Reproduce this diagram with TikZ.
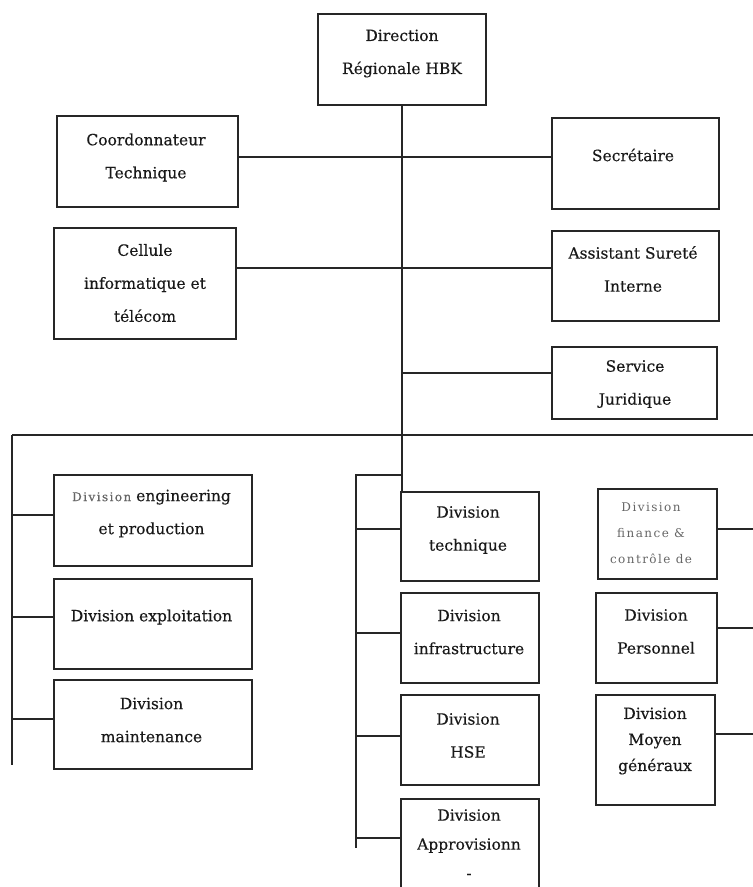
\documentclass[tikz,border=0pt]{standalone}
\usepackage{fontspec}
\setmainfont{DejaVu Serif}
\usetikzlibrary{calc}

% rectangle node spanning the corners (x1,y1)-(x2,y2)
\newcommand\orgbox[5]{%
  \node[unitbox, minimum width={(#4-#2)*1pt}, minimum height={(#5-#3)*1pt}]
    (#1) at ({(#2+#4)/2},{(#3+#5)/2}) {};}
% light, spaced lettering used in some labels
\newcommand\lightword[1]{{\fontsize{12}{26}\selectfont\addfontfeatures{LetterSpace=12}\color{black!60}#1}}

\tikzset{
  unitbox/.style={draw=black!85, line width=1.8pt, rectangle, inner sep=0pt},
  label/.style={align=center, inner sep=0pt, text=black!90,
                font=\fontsize{15.5}{33}\selectfont\addfontfeatures{FakeBold=0.3}},
  tightlabel/.style={label, font=\fontsize{15.5}{26}\selectfont\addfontfeatures{FakeBold=0.3}},
  lightlabel/.style={align=center, inner sep=0pt, text=black!60,
                font=\fontsize{12}{26}\selectfont\addfontfeatures{LetterSpace=12}},
  conn/.style={draw=black!85, line width=1.8pt}
}

\begin{document}
\begin{tikzpicture}[x=1pt,y=-1pt]
\clip (0,0) rectangle (753,887);
\fill[white] (0,0) rectangle (753,887);

% boxes
\orgbox{dir}{318}{14}{486}{105}
\orgbox{coord}{57}{116}{238}{207}
\orgbox{cell}{54}{228}{236}{339}
\orgbox{secr}{552}{118}{719}{209}
\orgbox{assist}{552}{231}{719}{321}
\orgbox{serv}{552}{347}{717}{419}
\orgbox{eng}{54}{475}{252}{566}
\orgbox{expl}{54}{579}{252}{669}
\orgbox{maint}{54}{680}{252}{769}
\orgbox{tech}{401}{492}{539}{581}
\orgbox{infra}{401}{593}{539}{683}
\orgbox{hse}{401}{695}{539}{785}
\orgbox{appro}{401}{799}{539}{910}
\orgbox{fin}{598}{489}{717}{579}
\orgbox{pers}{596}{593}{717}{683}
\orgbox{moy}{596}{695}{715}{805}

% labels
\node[label] (tdir) at (402,53.5) {Direction\\Régionale HBK};
\node[label] (tcoord) at (146,157.5) {Coordonnateur\\Technique};
\node[label] (tcell) at (145,283) {Cellule\\informatique et\\télécom};
\node[label] (tsecr) at (633,155) {Secrétaire};
\node[label] (tassist) at (633,269) {Assistant Sureté\\Interne};
\node[label] (tserv) at (635,384) {Service\\Juridique};
\node[label] (teng) at (151.5,513.5) {\lightword{Division} engineering\\et production};
\node[label] (texpl) at (151.5,617) {Division exploitation};
\node[label] (tmaint) at (151.5,720) {Division\\maintenance};
\node[label] (ttech) at (468,530) {Division\\technique};
\node[label] (tinfra) at (469,632) {Division\\infrastructure};
\node[label] (thse) at (468,735.5) {Division\\HSE};
\node[label, font=\fontsize{15.5}{29}\selectfont\addfontfeatures{FakeBold=0.3}] (tappro) at (469,844) {Division\\Approvisionn\\-};
\node[lightlabel] (tfin) at (651,533) {Division\\finance \&\\contrôle de};
\node[label] (tpers) at (656,631.5) {Division\\Personnel};
\node[tightlabel] (tmoy) at (655,741) {Division\\Moyen\\généraux};

% junction points of the connector lines
\coordinate (h1) at (402,157);
\coordinate (h2) at (402,268);
\coordinate (h3) at (402,373);
\coordinate (busL) at (12,435);
\coordinate (busR) at (753,435);
\coordinate (lEnd) at (12,765);
\coordinate (l1) at (12,515);
\coordinate (l2) at (12,617);
\coordinate (l3) at (12,719);
\coordinate (mTop) at (356,475);
\coordinate (mEnd) at (356,848);
\coordinate (m1) at (356,529);
\coordinate (m2) at (356,633);
\coordinate (m3) at (356,736);
\coordinate (m4) at (356,838);
\coordinate (r1) at (753,529);
\coordinate (r2) at (753,628);
\coordinate (r3) at (753,734);

% connectors
\draw[conn] (dir.south) -- (dir.south |- tech.north);
\draw[conn] (coord.east |- h1) -- (secr.west |- h1);
\draw[conn] (cell.east |- h2) -- (assist.west |- h2);
\draw[conn] (h3) -- (serv.west |- h3);
\draw[conn] (busL) -- (busR);
\draw[conn] (busL) -- (lEnd);
\draw[conn] (l1) -- (l1 -| eng.west);
\draw[conn] (l2) -- (l2 -| expl.west);
\draw[conn] (l3) -- (l3 -| maint.west);
\draw[conn] (mTop -| dir.south) -- (mTop) -- (mEnd);
\draw[conn] (m1) -- (m1 -| tech.west);
\draw[conn] (m2) -- (m2 -| infra.west);
\draw[conn] (m3) -- (m3 -| hse.west);
\draw[conn] (m4) -- (m4 -| appro.west);
\draw[conn] (fin.east |- r1) -- (r1);
\draw[conn] (pers.east |- r2) -- (r2);
\draw[conn] (moy.east |- r3) -- (r3);
\end{tikzpicture}
\end{document}
